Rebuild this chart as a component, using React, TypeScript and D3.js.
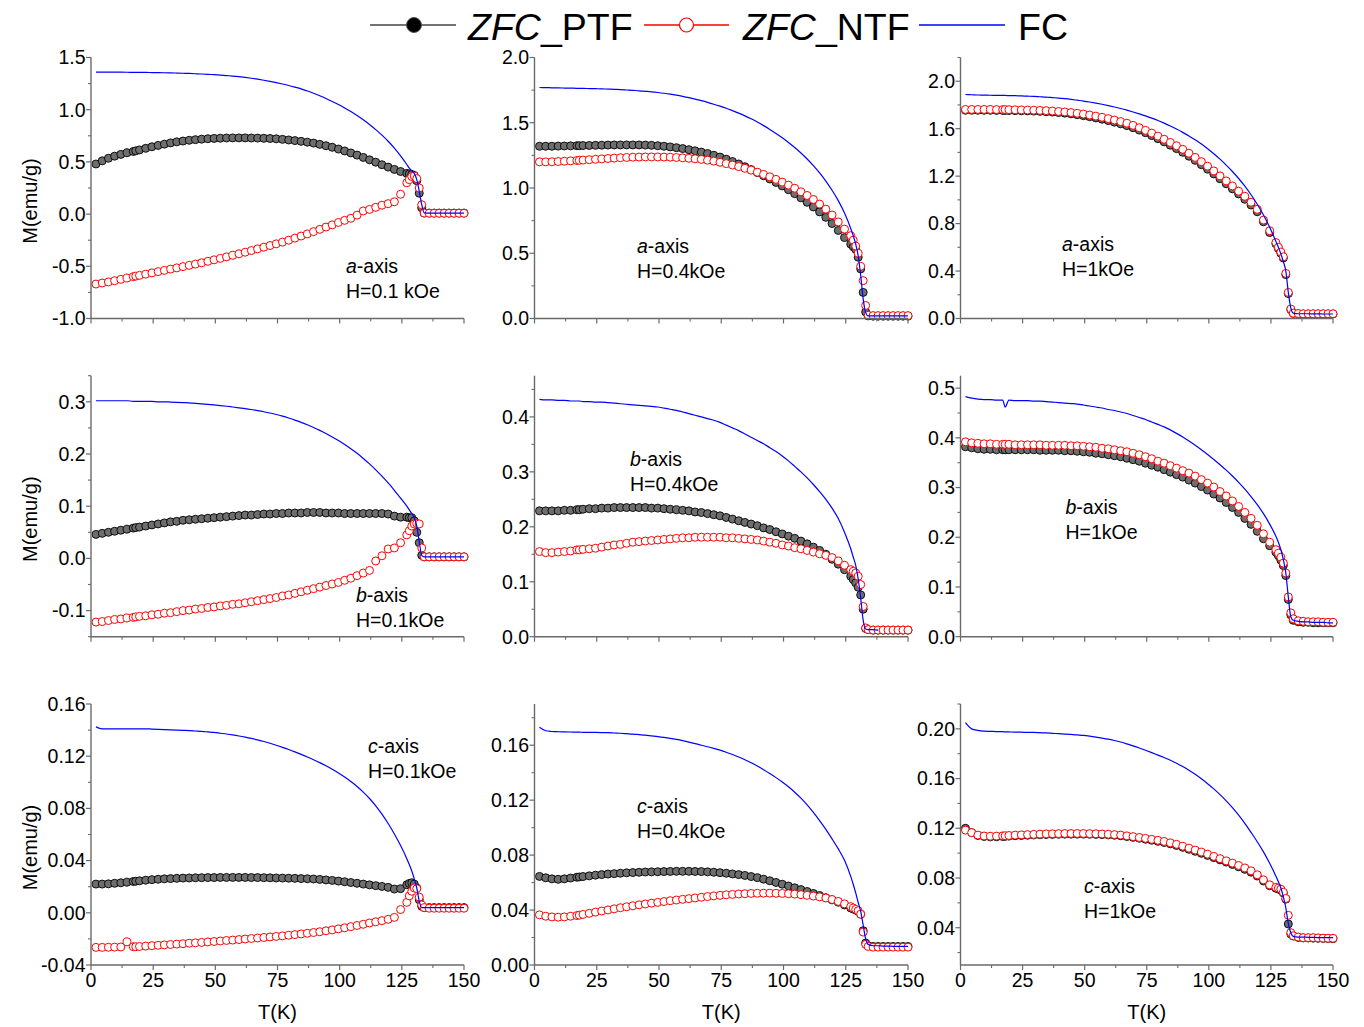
import React from "react";
import * as d3 from "d3";

// ---------- shared temperature grid (K) ----------
const T = [
  2, 4.5, 7, 9.5, 12, 14.5, 17, 18, 19.5,
  22, 24.5, 27, 29.5, 32, 34.5, 37, 39.5, 42,
  44.5, 47, 49.5, 52, 54.5, 57, 59.5, 62, 64.5,
  67, 69.5, 72, 74.5, 77, 79.5, 82, 84.5, 87,
  89.5, 92, 94.5, 97, 99.5, 102, 104.5, 107, 109.5,
  112, 114.5, 117, 119.5, 122, 124.5, 127,
  128, 129, 130, 131, 132, 133, 134,
  136, 138, 140, 142, 144, 146, 148, 150,
];

const xTicks = [0, 25, 50, 75, 100, 125, 150];

// ---------- a-axis, H = 0.1 kOe ----------
const fcA1 = [
  1.36, 1.36, 1.36, 1.3595, 1.359, 1.3585, 1.358, 1.3578, 1.3575,
  1.357, 1.356, 1.355, 1.354, 1.3525, 1.351, 1.349, 1.347, 1.3445,
  1.342, 1.339, 1.3355, 1.3315, 1.327, 1.322, 1.316, 1.309, 1.301,
  1.292, 1.282, 1.271, 1.259, 1.246, 1.232, 1.216, 1.199, 1.179,
  1.157, 1.133, 1.107, 1.079, 1.049, 1.017, 0.982, 0.944, 0.903,
  0.858, 0.809, 0.756, 0.698, 0.633, 0.558, 0.475,
  0.44, 0.415, 0.39, 0.33, 0.22, 0.09, 0.012,
  0.01, 0.01, 0.01, 0.01, 0.01, 0.01, 0.01, 0.01,
];
const ptfA1 = [
  0.48, 0.51, 0.535, 0.555, 0.572, 0.588, 0.6, 0.606, 0.615,
  0.63, 0.645, 0.658, 0.67, 0.682, 0.692, 0.7, 0.707, 0.713,
  0.718, 0.722, 0.725, 0.727, 0.729, 0.73, 0.73, 0.73, 0.729,
  0.728, 0.726, 0.724, 0.721, 0.716, 0.71, 0.704, 0.697, 0.689,
  0.68, 0.668, 0.655, 0.64, 0.623, 0.605, 0.586, 0.565, 0.543,
  0.52, 0.497, 0.473, 0.45, 0.428, 0.408, 0.39,
  0.385, 0.38, 0.37, 0.32, 0.2, 0.06, 0.01,
  0.01, 0.01, 0.01, 0.01, 0.01, 0.01, 0.01, 0.01,
];
const ntfA1 = [
  -0.67, -0.66, -0.65, -0.638, -0.625, -0.612, -0.599, -0.594, -0.587,
  -0.575, -0.563, -0.551, -0.539, -0.527, -0.515, -0.503, -0.491, -0.479,
  -0.466, -0.452, -0.438, -0.424, -0.41, -0.395, -0.38, -0.365, -0.349,
  -0.333, -0.317, -0.301, -0.285, -0.268, -0.25, -0.23, -0.21, -0.19,
  -0.168, -0.146, -0.124, -0.103, -0.08, -0.06, -0.04, -0.01, 0.03,
  0.045, 0.065, 0.085, 0.1, 0.118, 0.19, 0.3,
  0.33, 0.36, 0.365, 0.34, 0.25, 0.09, 0.01,
  0.008, 0.008, 0.008, 0.008, 0.008, 0.008, 0.008, 0.008,
];

// ---------- a-axis, H = 0.4 kOe ----------
const fcA2 = [
  1.77, 1.769, 1.768, 1.767, 1.766, 1.765, 1.764, 1.764, 1.763,
  1.762, 1.761, 1.76, 1.758, 1.756, 1.754, 1.751, 1.748, 1.745,
  1.741, 1.737, 1.732, 1.726, 1.719, 1.711, 1.702, 1.692, 1.681,
  1.669, 1.656, 1.642, 1.627, 1.611, 1.593, 1.574, 1.553, 1.53,
  1.505, 1.478, 1.449, 1.418, 1.385, 1.349, 1.31, 1.268, 1.222,
  1.171, 1.115, 1.053, 0.983, 0.903, 0.808, 0.69,
  0.635, 0.57, 0.48, 0.33, 0.15, 0.045, 0.02,
  0.02, 0.02, 0.02, 0.02, 0.02, 0.02, 0.02, 0.02,
];
const ptfA2 = [
  1.32, 1.32, 1.32, 1.321, 1.322, 1.323, 1.324, 1.324, 1.325,
  1.326, 1.327, 1.328, 1.329, 1.33, 1.33, 1.33, 1.33, 1.33,
  1.329, 1.327, 1.324, 1.32, 1.315, 1.309, 1.302, 1.294, 1.285,
  1.275, 1.264, 1.251, 1.237, 1.221, 1.203, 1.184, 1.163, 1.141,
  1.118, 1.094, 1.069, 1.043, 1.016, 0.987, 0.957, 0.925, 0.891,
  0.855, 0.817, 0.775, 0.728, 0.675, 0.62, 0.57,
  0.55, 0.53, 0.47, 0.38, 0.2, 0.05, 0.02,
  0.018, 0.018, 0.018, 0.018, 0.018, 0.018, 0.018, 0.018,
];
const ntfA2 = [
  1.2, 1.2, 1.201, 1.203, 1.205, 1.208, 1.211, 1.212, 1.214,
  1.217, 1.22, 1.223, 1.226, 1.229, 1.232, 1.234, 1.236, 1.237,
  1.238, 1.238, 1.238, 1.237, 1.236, 1.234, 1.231, 1.228, 1.224,
  1.219, 1.213, 1.206, 1.197, 1.187, 1.176, 1.164, 1.151, 1.137,
  1.121, 1.104, 1.086, 1.066, 1.045, 1.022, 0.998, 0.971, 0.943,
  0.912, 0.877, 0.838, 0.793, 0.74, 0.685, 0.635,
  0.6, 0.555, 0.5, 0.4, 0.29, 0.1, 0.025,
  0.022, 0.022, 0.022, 0.022, 0.022, 0.022, 0.022, 0.022,
];

// ---------- a-axis, H = 1 kOe ----------
const fcA3 = [
  1.888, 1.886, 1.884, 1.883, 1.882, 1.881, 1.88, 1.88, 1.879,
  1.878, 1.876, 1.874, 1.872, 1.869, 1.866, 1.862, 1.858, 1.853,
  1.847, 1.84, 1.833, 1.825, 1.816, 1.806, 1.795, 1.783, 1.77,
  1.756, 1.741, 1.725, 1.708, 1.689, 1.669, 1.647, 1.623, 1.597,
  1.569, 1.539, 1.506, 1.47, 1.431, 1.389, 1.343, 1.293, 1.239,
  1.18, 1.115, 1.043, 0.963, 0.873, 0.77, 0.65,
  0.6, 0.545, 0.48, 0.4, 0.22, 0.09, 0.045,
  0.04, 0.04, 0.04, 0.039, 0.039, 0.038, 0.038, 0.038,
];
const ptfA3 = [
  1.755, 1.755, 1.755, 1.755, 1.755, 1.754, 1.754, 1.754, 1.753,
  1.752, 1.751, 1.75, 1.748, 1.746, 1.743, 1.74, 1.736, 1.731,
  1.725, 1.718, 1.71, 1.701, 1.691, 1.68, 1.668, 1.655, 1.641,
  1.626, 1.608, 1.588, 1.566, 1.542, 1.516, 1.489, 1.461, 1.432,
  1.401, 1.368, 1.333, 1.297, 1.259, 1.219, 1.178, 1.136, 1.093,
  1.05, 1.005, 0.957, 0.9, 0.815, 0.725, 0.63,
  0.59, 0.55, 0.51, 0.37, 0.21, 0.075, 0.043,
  0.04, 0.038, 0.038, 0.038, 0.038, 0.038, 0.038, 0.038,
];
const ntfA3 = [
  1.762, 1.762, 1.762, 1.762, 1.762, 1.761, 1.761, 1.761, 1.76,
  1.759, 1.758, 1.757, 1.756, 1.754, 1.752, 1.749, 1.745, 1.741,
  1.736, 1.73, 1.723, 1.715, 1.706, 1.696, 1.685, 1.673, 1.66,
  1.646, 1.628, 1.608, 1.586, 1.563, 1.537, 1.511, 1.484, 1.456,
  1.426, 1.393, 1.358, 1.322, 1.284, 1.244, 1.202, 1.16, 1.117,
  1.073, 1.03, 0.98, 0.92, 0.83, 0.74, 0.64,
  0.6, 0.56, 0.52, 0.38, 0.22, 0.08, 0.045,
  0.042, 0.04, 0.04, 0.04, 0.04, 0.04, 0.04, 0.04,
];

// ---------- b-axis, H = 0.1 kOe ----------
const fcB1 = [
  0.302, 0.302, 0.302, 0.302, 0.302, 0.302, 0.301, 0.301, 0.301,
  0.301, 0.301, 0.3, 0.3, 0.2995, 0.299, 0.2985, 0.298, 0.297,
  0.296, 0.295, 0.294, 0.2928, 0.2915, 0.29, 0.2885, 0.287, 0.2852,
  0.2832, 0.281, 0.2785, 0.2757, 0.2725, 0.2689, 0.265, 0.2607, 0.256,
  0.2508, 0.2452, 0.2392, 0.2327, 0.2257, 0.2182, 0.2101, 0.2013, 0.1915,
  0.181, 0.1697, 0.1575, 0.1445, 0.1305, 0.1155, 0.1,
  0.093, 0.086, 0.078, 0.062, 0.032, 0.006, 0.003,
  0.003, 0.003, 0.003, 0.003, 0.003, 0.003, 0.003, 0.003,
];
const ptfB1 = [
  0.046, 0.048, 0.05, 0.052, 0.054, 0.056, 0.058, 0.059, 0.06,
  0.062, 0.064, 0.066, 0.068, 0.07, 0.071, 0.073, 0.074, 0.075,
  0.076, 0.077, 0.078, 0.079, 0.08, 0.081, 0.082, 0.083, 0.083,
  0.084, 0.085, 0.085, 0.086, 0.086, 0.087, 0.087, 0.087, 0.088,
  0.088, 0.088, 0.087, 0.087, 0.087, 0.086, 0.086, 0.086, 0.086,
  0.086, 0.086, 0.086, 0.085, 0.081, 0.079, 0.079,
  0.078, 0.078, 0.072, 0.05, 0.03, 0.006, 0.003,
  0.003, 0.003, 0.003, 0.003, 0.003, 0.003, 0.003, 0.003,
];
const ntfB1 = [
  -0.122, -0.121, -0.119, -0.117, -0.116, -0.114, -0.113, -0.112, -0.111,
  -0.11, -0.108, -0.107, -0.105, -0.104, -0.102, -0.1, -0.099, -0.097,
  -0.096, -0.094, -0.093, -0.091, -0.09, -0.088, -0.087, -0.085, -0.083,
  -0.081, -0.079, -0.077, -0.075, -0.072, -0.07, -0.067, -0.064, -0.061,
  -0.058, -0.055, -0.052, -0.049, -0.046, -0.042, -0.038, -0.033, -0.028,
  -0.023, -0.005, 0.005, 0.018, 0.02, 0.03, 0.045,
  0.053, 0.062, 0.066, 0.067, 0.066, 0.02, 0.003,
  0.003, 0.003, 0.003, 0.003, 0.003, 0.003, 0.003, 0.003,
];

// ---------- b-axis, H = 0.4 kOe ----------
const fcB2 = [
  0.432, 0.431, 0.431, 0.43, 0.43, 0.429, 0.429, 0.429, 0.428,
  0.428, 0.427, 0.427, 0.426, 0.425, 0.424, 0.423, 0.422, 0.421,
  0.42, 0.419, 0.418, 0.416, 0.414, 0.412, 0.409, 0.406, 0.403,
  0.4, 0.397, 0.394, 0.39, 0.385, 0.38, 0.375, 0.369, 0.363,
  0.357, 0.351, 0.344, 0.337, 0.329, 0.32, 0.31, 0.3, 0.289,
  0.277, 0.264, 0.25, 0.234, 0.215, 0.19, 0.16,
  0.145, 0.13, 0.105, 0.07, 0.03, 0.014, 0.013,
  0.013, 0.012, null, null, null, null, null, null,
];
const ptfB2 = [
  0.229, 0.229, 0.229, 0.229, 0.23, 0.23, 0.231, 0.231, 0.232,
  0.233, 0.233, 0.234, 0.234, 0.235, 0.235, 0.235, 0.235, 0.235,
  0.235, 0.234, 0.234, 0.233, 0.232, 0.231, 0.23, 0.229, 0.227,
  0.226, 0.224, 0.222, 0.22, 0.217, 0.214, 0.211, 0.208, 0.205,
  0.202, 0.198, 0.195, 0.191, 0.187, 0.183, 0.179, 0.174, 0.169,
  0.163, 0.157, 0.15, 0.141, 0.132, 0.122, 0.11,
  0.104, 0.098, 0.09, 0.076, 0.05, 0.015, 0.013,
  0.012, 0.012, 0.012, 0.012, 0.012, 0.012, 0.012, 0.012,
];
const ntfB2 = [
  0.155, 0.153, 0.153, 0.154, 0.155, 0.156, 0.158, 0.158, 0.159,
  0.16, 0.161, 0.163, 0.165, 0.167, 0.168, 0.17, 0.172, 0.173,
  0.174, 0.175, 0.176, 0.177, 0.178, 0.179, 0.18, 0.18, 0.181,
  0.181, 0.181, 0.181, 0.181, 0.18, 0.18, 0.179, 0.178, 0.177,
  0.176, 0.174, 0.172, 0.17, 0.167, 0.165, 0.162, 0.16, 0.157,
  0.154, 0.151, 0.148, 0.144, 0.138, 0.13, 0.122,
  0.119, 0.116, 0.11, 0.095, 0.055, 0.016, 0.013,
  0.012, 0.012, 0.012, 0.012, 0.012, 0.012, 0.012, 0.012,
];

// ---------- b-axis, H = 1 kOe ----------
const fcB3 = [
  0.483, 0.48, 0.478, 0.477, 0.477, 0.476, 0.476, 0.462, 0.476,
  0.475, 0.475, 0.475, 0.474, 0.474, 0.473, 0.472, 0.471, 0.47,
  0.469, 0.468, 0.466, 0.464, 0.462, 0.46, 0.457, 0.455, 0.452,
  0.449, 0.445, 0.441, 0.437, 0.432, 0.427, 0.422, 0.416, 0.409,
  0.4015, 0.3935, 0.385, 0.376, 0.3665, 0.3565, 0.346, 0.335, 0.3232,
  0.3105, 0.2968, 0.2818, 0.2655, 0.2475, 0.2265, 0.202,
  0.19, 0.175, 0.155, 0.128, 0.08, 0.04, 0.033,
  0.031, 0.03, 0.03, 0.029, 0.029, 0.029, 0.028, 0.028,
];
const ptfB3 = [
  0.382, 0.38, 0.378, 0.377, 0.377, 0.376, 0.376, 0.376, 0.376,
  0.376, 0.376, 0.376, 0.376, 0.375, 0.375, 0.375, 0.375, 0.374,
  0.374, 0.373, 0.372, 0.371, 0.369, 0.368, 0.366, 0.364, 0.362,
  0.359, 0.356, 0.353, 0.349, 0.345, 0.341, 0.336, 0.331, 0.326,
  0.321, 0.315, 0.309, 0.302, 0.295, 0.287, 0.279, 0.27, 0.26,
  0.25, 0.238, 0.226, 0.212, 0.197, 0.183, 0.17,
  0.163, 0.154, 0.143, 0.123, 0.075, 0.044, 0.033,
  0.03, 0.029, 0.029, 0.028, 0.028, 0.028, 0.028, 0.028,
];
const ntfB3 = [
  0.392, 0.39, 0.389, 0.388, 0.388, 0.387, 0.387, 0.387, 0.387,
  0.386, 0.386, 0.386, 0.386, 0.386, 0.385, 0.385, 0.385, 0.385,
  0.384, 0.384, 0.383, 0.382, 0.381, 0.379, 0.378, 0.376, 0.374,
  0.372, 0.369, 0.366, 0.362, 0.358, 0.353, 0.349, 0.344, 0.339,
  0.334, 0.329, 0.323, 0.316, 0.309, 0.301, 0.292, 0.283, 0.273,
  0.262, 0.25, 0.238, 0.224, 0.207, 0.19, 0.175,
  0.168, 0.16, 0.148, 0.128, 0.08, 0.048, 0.036,
  0.032, 0.031, 0.03, 0.03, 0.03, 0.029, 0.029, 0.029,
];

// ---------- c-axis, H = 0.1 kOe ----------
const fcC1 = [
  0.1425, 0.141, 0.141, 0.141, 0.141, 0.141, 0.141, 0.141, 0.141,
  0.141, 0.1408, 0.1406, 0.1404, 0.1402, 0.14, 0.1398, 0.1396, 0.1393,
  0.139, 0.1386, 0.1382, 0.1376, 0.137, 0.1363, 0.1355, 0.1346, 0.1336,
  0.1325, 0.1313, 0.1299, 0.1284, 0.1268, 0.1251, 0.1233, 0.1214, 0.1194,
  0.1173, 0.1151, 0.1127, 0.11, 0.1071, 0.104, 0.1006, 0.0968, 0.0925,
  0.0876, 0.082, 0.0756, 0.0684, 0.0604, 0.0515, 0.0415,
  0.037, 0.032, 0.026, 0.019, 0.009, 0.004, 0.004,
  0.004, 0.004, 0.004, 0.004, 0.004, 0.004, 0.004, 0.004,
];
const ptfC1 = [
  0.022, 0.022, 0.0222, 0.0226, 0.023, 0.0235, 0.024, 0.0242, 0.0245,
  0.025, 0.0254, 0.0257, 0.026, 0.0262, 0.0264, 0.0266, 0.0267, 0.0268,
  0.0269, 0.027, 0.027, 0.0271, 0.0271, 0.0271, 0.0271, 0.0271, 0.027,
  0.027, 0.0269, 0.0268, 0.0267, 0.0266, 0.0265, 0.0264, 0.0262, 0.0261,
  0.0259, 0.0256, 0.0252, 0.0248, 0.0243, 0.0238, 0.0232, 0.0226, 0.022,
  0.0214, 0.0208, 0.0202, 0.0195, 0.0182, 0.0185, 0.0215,
  0.0225, 0.023, 0.022, 0.019, 0.01, 0.005, 0.004,
  0.004, 0.004, 0.004, 0.004, 0.004, 0.004, 0.004, 0.004,
];
const ntfC1 = [
  -0.0265, -0.0265, -0.0264, -0.0263, -0.0262, -0.0222, -0.026, -0.026, -0.0258,
  -0.0255, -0.0252, -0.0249, -0.0246, -0.0243, -0.024, -0.0237, -0.0233, -0.023,
  -0.0227, -0.0223, -0.022, -0.0216, -0.0212, -0.0209, -0.0205, -0.0201, -0.0197,
  -0.0193, -0.0189, -0.0185, -0.0181, -0.0177, -0.0172, -0.0167, -0.0162, -0.0157,
  -0.0151, -0.0145, -0.0138, -0.0131, -0.0123, -0.0115, -0.0106, -0.0097, -0.0088,
  -0.0078, -0.0069, -0.006, -0.005, -0.0035, 0.0025, 0.008,
  0.013, 0.0165, 0.019, 0.0185, 0.012, 0.006, 0.004,
  0.0035, 0.0035, 0.0035, 0.0035, 0.0035, 0.0035, 0.0035, 0.0035,
];

// ---------- c-axis, H = 0.4 kOe ----------
const fcC2 = [
  0.173, 0.1705, 0.17, 0.1698, 0.1697, 0.1696, 0.1695, 0.1695, 0.1694,
  0.1694, 0.1693, 0.1692, 0.1691, 0.1689, 0.1687, 0.1684, 0.1681, 0.1677,
  0.1673, 0.1668, 0.1663, 0.1657, 0.165, 0.1642, 0.1633, 0.1623, 0.1612,
  0.16, 0.1589, 0.1577, 0.1564, 0.1549, 0.1532, 0.1514, 0.1494, 0.1472,
  0.1448, 0.1422, 0.1394, 0.1364, 0.1332, 0.1297, 0.1258, 0.1215, 0.1166,
  0.1111, 0.1051, 0.0987, 0.0918, 0.0845, 0.0762, 0.0645,
  0.0588, 0.0525, 0.0455, 0.039, 0.029, 0.019, 0.015,
  0.014, 0.014, 0.0138, 0.0138, 0.0136, 0.0136, 0.0135, 0.0135,
];
const ptfC2 = [
  0.0645, 0.0635, 0.0627, 0.0624, 0.0627, 0.0633, 0.0639, 0.0641, 0.0644,
  0.0649, 0.0654, 0.0658, 0.0662, 0.0665, 0.0668, 0.0671, 0.0673, 0.0675,
  0.0677, 0.0678, 0.0679, 0.068, 0.0681, 0.0682, 0.0682, 0.0682, 0.0681,
  0.068, 0.0678, 0.0675, 0.0672, 0.0668, 0.0663, 0.0658, 0.0652, 0.0644,
  0.0636, 0.0625, 0.0613, 0.0601, 0.0588, 0.0575, 0.0562, 0.0549, 0.0535,
  0.0521, 0.0506, 0.049, 0.0474, 0.0457, 0.0437, 0.0415,
  0.0408, 0.04, 0.039, 0.037, 0.025, 0.016, 0.014,
  0.0135, 0.0135, 0.0135, 0.0135, 0.0135, 0.0135, 0.0135, 0.0135,
];
const ntfC2 = [
  0.0365, 0.0355, 0.035, 0.0348, 0.035, 0.0355, 0.036, 0.0363, 0.0368,
  0.0376, 0.0385, 0.0393, 0.0401, 0.0409, 0.0417, 0.0424, 0.0431, 0.0438,
  0.0444, 0.045, 0.0456, 0.0462, 0.0468, 0.0473, 0.0478, 0.0483, 0.0488,
  0.0493, 0.0498, 0.0503, 0.0507, 0.0511, 0.0514, 0.0517, 0.0519, 0.0521,
  0.0522, 0.0523, 0.0523, 0.0522, 0.0521, 0.0519, 0.0516, 0.0512, 0.0507,
  0.0502, 0.0496, 0.0488, 0.0477, 0.0463, 0.0445, 0.0425,
  0.0415, 0.0405, 0.0395, 0.037, 0.024, 0.015, 0.0135,
  0.013, 0.013, 0.013, 0.013, 0.013, 0.013, 0.013, 0.013,
];

// ---------- c-axis, H = 1 kOe ----------
const fcC3 = [
  0.205, 0.2, 0.1988, 0.1982, 0.198, 0.1978, 0.1977, 0.1976, 0.1975,
  0.1974, 0.1973, 0.1972, 0.1971, 0.1969, 0.1967, 0.1964, 0.1961, 0.1958,
  0.1955, 0.1951, 0.1947, 0.1941, 0.1934, 0.1926, 0.1917, 0.1906, 0.1894,
  0.1879, 0.1863, 0.1846, 0.1828, 0.1809, 0.1789, 0.1769, 0.1748, 0.1724,
  0.1697, 0.1667, 0.1634, 0.1598, 0.1559, 0.1517, 0.1471, 0.1421, 0.1366,
  0.1306, 0.124, 0.1167, 0.1092, 0.101, 0.0918, 0.0815,
  0.077, 0.072, 0.065, 0.056, 0.0435, 0.036, 0.033,
  0.0325, 0.0324, 0.0323, 0.0322, 0.0321, 0.032, 0.032, 0.032,
];
const ptfC3 = [
  0.12, 0.1165, 0.1142, 0.1134, 0.1131, 0.1132, 0.1134, 0.1135, 0.1137,
  0.114, 0.1142, 0.1144, 0.1146, 0.1148, 0.115, 0.1151, 0.1152, 0.1153,
  0.1153, 0.1153, 0.1153, 0.1152, 0.1151, 0.1149, 0.1147, 0.1144, 0.114,
  0.1134, 0.1127, 0.112, 0.1112, 0.1104, 0.1095, 0.1086, 0.1075, 0.1062,
  0.1047, 0.1031, 0.1015, 0.0999, 0.0982, 0.0964, 0.0946, 0.0928, 0.0909,
  0.089, 0.087, 0.0847, 0.0816, 0.0776, 0.0738, 0.0718,
  0.0711, 0.0703, 0.068, 0.063, 0.043, 0.035, 0.0333,
  0.0322, 0.0318, 0.0317, 0.0316, 0.0315, 0.0314, 0.0313, 0.0312,
];
const ntfC3 = [
  0.1185, 0.1165, 0.1145, 0.1138, 0.1136, 0.1137, 0.1139, 0.114, 0.1142,
  0.1145, 0.1147, 0.1149, 0.1151, 0.1153, 0.1155, 0.1156, 0.1157, 0.1158,
  0.1158, 0.1158, 0.1158, 0.1157, 0.1156, 0.1154, 0.1152, 0.1149, 0.1145,
  0.1139, 0.1133, 0.1126, 0.1119, 0.1111, 0.1103, 0.1094, 0.1083, 0.1071,
  0.1056, 0.104, 0.1025, 0.1009, 0.0992, 0.0974, 0.0956, 0.0938, 0.092,
  0.0901, 0.0881, 0.0858, 0.0826, 0.0785, 0.0745, 0.0725,
  0.0718, 0.071, 0.0685, 0.0635, 0.05, 0.036, 0.0335,
  0.0325, 0.032, 0.032, 0.032, 0.0318, 0.0316, 0.0315, 0.0315,
];

// ---------- y-axis tick labels ----------
const yTicksA1 = [-1.0, -0.5, 0.0, 0.5, 1.0, 1.5];
const yTicksA2 = [0.0, 0.5, 1.0, 1.5, 2.0];
const yTicksA3 = [0.0, 0.4, 0.8, 1.2, 1.6, 2.0];
const yTicksB1 = [-0.1, 0.0, 0.1, 0.2, 0.3];
const yTicksB2 = [0.0, 0.1, 0.2, 0.3, 0.4];
const yTicksB3 = [0.0, 0.1, 0.2, 0.3, 0.4, 0.5];
const yTicksC1 = [-0.04, 0.0, 0.04, 0.08, 0.12, 0.16];
const yTicksC2 = [0.0, 0.04, 0.08, 0.12, 0.16];
const yTicksC3 = [0.04, 0.08, 0.12, 0.16, 0.2];

// ---------- layout (positions / styles) ----------
const FONT = "'Liberation Sans', Arial, Helvetica, sans-serif";
const AXIS_COLOR = "#6a6a6a";
const COLS = [
  { x0: 91, x1: 464 },
  { x0: 534.5, x1: 908 },
  { x0: 960.5, x1: 1333 },
];
const ROWS = [
  { top: 57.5, bottom: 318.5 },
  { top: 375.7, bottom: 636.7 },
  { top: 704, bottom: 965 },
];

const PANELS = [
  { r: 0, c: 0, ptf: ptfA1, ntf: ntfA1, fc: fcA1, dom: [-1, 1.5], ticks: yTicksA1, dec: 1, ax: "a", field: "H=0.1 kOe", lx: 346, ly: 273 },
  { r: 0, c: 1, ptf: ptfA2, ntf: ntfA2, fc: fcA2, dom: [0, 2.0], ticks: yTicksA2, dec: 1, ax: "a", field: "H=0.4kOe", lx: 637, ly: 253 },
  { r: 0, c: 2, ptf: ptfA3, ntf: ntfA3, fc: fcA3, dom: [0, 2.2], ticks: yTicksA3, dec: 1, ax: "a", field: "H=1kOe", lx: 1062, ly: 250.5 },
  { r: 1, c: 0, ptf: ptfB1, ntf: ntfB1, fc: fcB1, dom: [-0.15, 0.35], ticks: yTicksB1, dec: 1, ax: "b", field: "H=0.1kOe", lx: 356, ly: 601.5 },
  { r: 1, c: 1, ptf: ptfB2, ntf: ntfB2, fc: fcB2, dom: [0, 0.475], ticks: yTicksB2, dec: 1, ax: "b", field: "H=0.4kOe", lx: 630, ly: 466 },
  { r: 1, c: 2, ptf: ptfB3, ntf: ntfB3, fc: fcB3, dom: [0, 0.525], ticks: yTicksB3, dec: 1, ax: "b", field: "H=1kOe", lx: 1065.5, ly: 514 },
  { r: 2, c: 0, ptf: ptfC1, ntf: ntfC1, fc: fcC1, dom: [-0.04, 0.16], ticks: yTicksC1, dec: 2, ax: "c", field: "H=0.1kOe", lx: 368, ly: 753 },
  { r: 2, c: 1, ptf: ptfC2, ntf: ntfC2, fc: fcC2, dom: [0, 0.19], ticks: yTicksC2, dec: 2, ax: "c", field: "H=0.4kOe", lx: 637, ly: 813 },
  { r: 2, c: 2, ptf: ptfC3, ntf: ntfC3, fc: fcC3, dom: [0.01, 0.22], ticks: yTicksC3, dec: 2, ax: "c", field: "H=1kOe", lx: 1084, ly: 893 },
];

function fmt(v: number, dec: number) {
  return Math.abs(v) < 1e-9 ? (0).toFixed(dec) : v.toFixed(dec);
}

function minorTicks(major: number[], dom: number[]) {
  const half = (major[1] - major[0]) / 2;
  const out: number[] = [];
  const k0 = Math.ceil(dom[0] / half - 1e-6);
  const k1 = Math.floor(dom[1] / half + 1e-6);
  for (let k = k0; k <= k1; k++) {
    const v = k * half;
    const isMajor = major.some((m) => Math.abs(m - v) < half * 0.01);
    if (!isMajor) out.push(v);
  }
  return out;
}

function Panel({ p }: { p: any }) {
  const col = COLS[p.c];
  const row = ROWS[p.r];
  const x = d3.scaleLinear().domain([0, 150]).range([col.x0, col.x1]);
  const y = d3.scaleLinear().domain(p.dom).range([row.bottom, row.top]);
  const toPts = (arr: (number | null)[]) =>
    T.map((t, i) => [t, arr[i]] as [number, number | null]).filter(
      (d) => d[1] !== null && d[1] !== undefined
    ) as [number, number][];
  const ptfPts = toPts(p.ptf);
  const ntfPts = toPts(p.ntf);
  const line = d3
    .line<[number, number | null]>()
    .defined((d) => d[1] !== null && d[1] !== undefined)
    .x((d) => x(d[0]))
    .y((d) => y(d[1] as number))
    .curve(d3.curveMonotoneX);
  const fcData = T.map((t, i) => [t, p.fc[i] ?? null] as [number, number | null]);
  const yMinor = minorTicks(p.ticks, p.dom);
  const xMinor = minorTicks(xTicks, [0, 150]);
  const showX = p.r === 2;
  const yb = row.bottom;
  return (
    <g>
      <g>
        {ptfPts.map((d, i) => (
          <circle key={"p" + i} cx={x(d[0])} cy={y(d[1])} r={4} fill="#6e6e6e" stroke="#000" strokeWidth={0.9} />
        ))}
      </g>
      <g>
        {ntfPts.map((d, i) => (
          <circle key={"n" + i} cx={x(d[0])} cy={y(d[1])} r={4} fill="#fff" stroke="#ff0000" strokeWidth={1} />
        ))}
      </g>
      <path d={line(fcData) || ""} fill="none" stroke="#0000ff" strokeWidth={1.2} />

      <line x1={col.x0} x2={col.x0} y1={row.top} y2={row.bottom} stroke={AXIS_COLOR} strokeWidth={1.4} />
      <line x1={col.x0} x2={col.x1} y1={yb} y2={yb} stroke={AXIS_COLOR} strokeWidth={1.4} />
      {p.ticks.map((v: number) => (
        <g key={"yt" + v}>
          <line x1={col.x0 - 5} x2={col.x0} y1={y(v)} y2={y(v)} stroke={AXIS_COLOR} strokeWidth={1.2} />
          <text x={col.x0 - 5.5} y={y(v)} dy="0.35em" textAnchor="end" fontSize={19.5} fontFamily={FONT} fill="#000">
            {fmt(v, p.dec)}
          </text>
        </g>
      ))}
      {yMinor.map((v: number) => (
        <line key={"ym" + v} x1={col.x0 - 3} x2={col.x0} y1={y(v)} y2={y(v)} stroke={AXIS_COLOR} strokeWidth={1.1} />
      ))}
      {xTicks.map((v) => (
        <g key={"xt" + v}>
          <line x1={x(v)} x2={x(v)} y1={yb} y2={yb + 5} stroke={AXIS_COLOR} strokeWidth={1.2} />
          {showX && (
            <text x={x(v)} y={yb + 22} textAnchor="middle" fontSize={19.5} fontFamily={FONT} fill="#000">
              {v}
            </text>
          )}
        </g>
      ))}
      {xMinor.map((v) => (
        <line key={"xm" + v} x1={x(v)} x2={x(v)} y1={yb} y2={yb + 3} stroke={AXIS_COLOR} strokeWidth={1.1} />
      ))}

      <text x={p.lx} y={p.ly} fontSize={19.5} fontFamily={FONT} fill="#000">
        <tspan fontStyle="italic">{p.ax}</tspan>-axis
      </text>
      <text x={p.lx} y={p.ly + 25} fontSize={19.5} fontFamily={FONT} fill="#000">
        {p.field}
      </text>

      {p.c === 0 && (
        <text
          transform={`translate(37, ${(row.top + row.bottom) / 2 + 13}) rotate(-90)`}
          textAnchor="middle"
          fontSize={20}
          fontFamily={FONT}
          fill="#000"
        >
          M(emu/g)
        </text>
      )}
      {showX && (
        <text x={(col.x0 + col.x1) / 2} y={1019} textAnchor="middle" fontSize={20} fontFamily={FONT} fill="#000">
          T(K)
        </text>
      )}
    </g>
  );
}

function Legend() {
  const ly = 25;
  return (
    <g fontFamily={FONT} fontSize={37.5} fill="#000">
      <line x1={370} x2={456} y1={ly} y2={ly} stroke="#444" strokeWidth={1.6} />
      <circle cx={414} cy={ly} r={7.5} fill="#000" stroke="#555" strokeWidth={1} />
      <text x={468} y={ly + 14.5}>
        <tspan fontStyle="italic">ZFC</tspan>_PTF
      </text>
      <line x1={644} x2={729} y1={ly} y2={ly} stroke="#ff0000" strokeWidth={1.6} />
      <circle cx={686.5} cy={ly} r={7} fill="#fff" stroke="#ff0000" strokeWidth={1.2} />
      <text x={743} y={ly + 14.5}>
        <tspan fontStyle="italic">ZFC</tspan>_NTF
      </text>
      <line x1={919} x2={1005} y1={ly} y2={ly} stroke="#0000ff" strokeWidth={1.6} />
      <text x={1018} y={ly + 14.5}>FC</text>
    </g>
  );
}

export default function App() {
  return (
    <svg
      width={1364}
      height={1027}
      viewBox="0 0 1364 1027"
      style={{ position: "absolute", left: 0, top: 0, background: "#fff" }}
    >
      <rect x={0} y={0} width={1364} height={1027} fill="#fff" />
      {PANELS.map((p, i) => (
        <Panel key={i} p={p} />
      ))}
      <Legend />
    </svg>
  );
}
